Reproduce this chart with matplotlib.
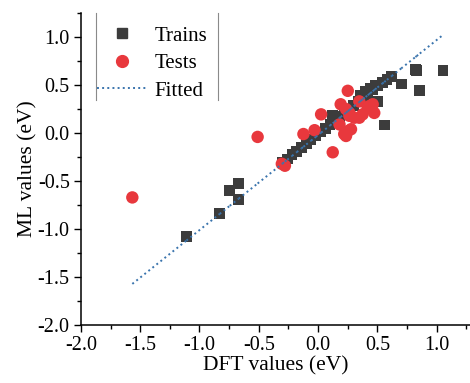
"""
Parity plot of ML-predicted vs DFT values (train/test points and fitted line).
"""

import numpy as np
import matplotlib.pyplot as plt
from matplotlib.collections import LineCollection
from matplotlib.lines import Line2D

# Data
train_x = [-1.11, -0.83, -0.745, -0.67, -0.67,
           -0.30, -0.26, -0.22, -0.18, -0.14, -0.10, -0.06, -0.02, 0.02, 0.06,
           0.10, 0.14, 0.18, 0.22, 0.26, 0.30, 0.34, 0.38, 0.42, 0.46, 0.50,
           0.54, 0.58, 0.62,
           0.123, 0.36, 0.40, 0.44, 0.48, 0.50, 0.557, 0.70, 0.82, 0.83,
           0.857, 1.053]
train_y = [-1.08, -0.84, -0.60, -0.525, -0.69,
           -0.31, -0.27, -0.22, -0.19, -0.15, -0.11, -0.07, -0.03, 0.01, 0.05,
           0.09, 0.13, 0.17, 0.20, 0.25, 0.29, 0.33, 0.37, 0.41, 0.45, 0.49,
           0.53, 0.56, 0.59,
           0.18, 0.39, 0.43, 0.47, 0.50, 0.33, 0.084, 0.51, 0.66, 0.65,
           0.444, 0.65]

test_x = [-1.566, -0.51, -0.306, -0.28, -0.124, -0.03, 0.025, 0.123, 0.18, 0.22,
          0.25, 0.19, 0.235, 0.263, 0.305, 0.347, 0.375, 0.417, 0.473, 0.46,
          0.277, 0.25, 0.235, 0.347, 0.43, 0.263]
test_y = [-0.67, -0.04, -0.32, -0.34, -0.01, 0.03, 0.195, -0.20, 0.09, -0.01,
          0.44, 0.30, 0.25, 0.18, 0.16, 0.33, 0.195, 0.26, 0.21, 0.30,
          0.04, 0.02, -0.03, 0.16, 0.28, 0.21]

FIT_SLOPE = 0.99
FIT_INTERCEPT = -0.02

plt.rcParams["font.family"] = ["Liberation Serif", "DejaVu Serif"]
plt.rcParams["axes.unicode_minus"] = False

fig = plt.figure(figsize=(4.70, 3.83), dpi=100)
ax = fig.add_axes([0.172, 0.151, 0.828, 0.815])

ax.scatter(train_x, train_y, marker="s", s=60, color="#3c3c3c",
           edgecolors="none", zorder=2)
ax.scatter(test_x, test_y, marker="o", s=80, color="#e8383d",
           edgecolors="none", zorder=3)

# Fitted line drawn segment by segment through the data x values (Origin style)
fx = np.sort(np.array(train_x + test_x))
fy = FIT_SLOPE * fx + FIT_INTERCEPT
segs = [[(fx[i], fy[i]), (fx[i + 1], fy[i + 1])] for i in range(len(fx) - 1)]
ax.add_collection(LineCollection(segs, colors="#3a74ad", linestyles=":",
                                 linewidths=1.4, zorder=4))

ax.set_xlim(-2.0, 1.28)
ax.set_ylim(-2.0, 1.24)
ax.set_xticks(np.arange(-2.0, 1.01, 0.5))
ax.set_yticks(np.arange(-2.0, 1.01, 0.5))
ax.set_xticks(np.arange(-1.75, 1.26, 0.5), minor=True)
ax.set_yticks(np.arange(-1.75, 1.26, 0.5), minor=True)
ax.tick_params(which="major", direction="out", length=5, width=1,
               labelsize=14.5, pad=3)
ax.tick_params(which="minor", direction="out", length=3, width=1)
ax.xaxis.set_major_formatter(plt.FormatStrFormatter("%.1f"))
ax.yaxis.set_major_formatter(plt.FormatStrFormatter("%.1f"))

for side in ["top", "right"]:
    ax.spines[side].set_visible(False)
for side in ["left", "bottom"]:
    ax.spines[side].set_linewidth(1.1)

ax.set_xlabel("DFT values (eV)", fontsize=15.5, labelpad=1)
ax.set_ylabel("ML values (eV)", fontsize=15.5, labelpad=0)

handles = [
    Line2D([], [], marker="s", ls="none", color="#3c3c3c", markersize=6.5),
    Line2D([], [], marker="o", ls="none", color="#e8383d", markersize=8.5),
    Line2D([], [], ls=":", color="#3a74ad", lw=1.4),
]
ax.legend(handles, ["Trains", "Tests", "Fitted"], loc="upper left",
          bbox_to_anchor=(0.042, 0.958), frameon=False, fontsize=15,
          handlelength=2.4, handletextpad=0.35, labelspacing=0.38,
          borderpad=0, borderaxespad=0)

# Origin-style legend box: only the two vertical edges show
for xa in (0.039, 0.353):
    ax.plot([xa, xa], [0.721, 1.0], transform=ax.transAxes,
            color="#8a8a8a", lw=0.8, clip_on=False)

fig.savefig("out.png", dpi=100)
